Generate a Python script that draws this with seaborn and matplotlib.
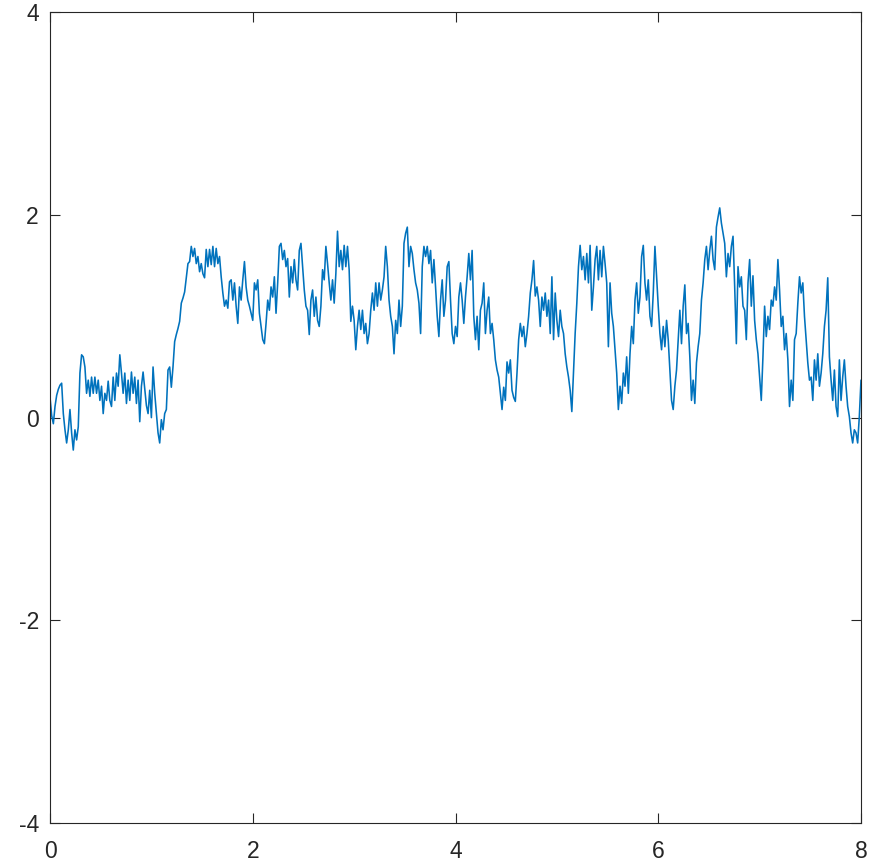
import numpy as np
import pandas as pd
import matplotlib
matplotlib.use('Agg')
import matplotlib.pyplot as plt
import seaborn as sns

####################################################################################################

seg_1 = [0.20, 0.02, -0.06, 0.11, 0.22, 0.28, 0.32, 0.34, 0.04, -0.12, -0.25, -0.12, 0.08, -0.15, -0.32,
         -0.12, -0.22, -0.09, 0.44, 0.62, 0.60, 0.50, 0.24, 0.37, 0.21, 0.40, 0.24, 0.40, 0.24, 0.37,
         0.17, 0.31, 0.04, 0.24, 0.17, 0.36, 0.17, 0.11, 0.40, 0.17, 0.44, 0.31, 0.62, 0.44, 0.24,
         0.44, 0.14, 0.37, 0.17, 0.45, 0.24, 0.40, 0.14, 0.37, -0.04, 0.31, 0.45, 0.28, 0.12, 0.04,
         0.27, 0.00, 0.50, 0.24, 0.04, -0.15, -0.25, -0.02, -0.12, 0.04, 0.08, 0.47, 0.50, 0.30, 0.50,
         0.75, 0.82, 0.88, 0.95, 1.13, 1.18, 1.24, 1.38, 1.52, 1.54, 1.69, 1.59, 1.67, 1.52, 1.59,
         1.44, 1.52, 1.42, 1.38, 1.66, 1.49, 1.66, 1.51, 1.69, 1.49, 1.67, 1.52, 1.59, 1.39, 1.23,
         1.10, 1.16, 1.08, 1.34, 1.36, 1.16, 1.33, 1.10, 0.93, 1.29, 1.16, 1.36, 1.54, 1.29, 1.16,
         1.10, 1.03, 0.96]

seg_2 = [1.33, 1.26, 1.36, 1.03, 0.90, 0.77, 0.73, 0.93, 1.16, 1.06, 1.29, 1.19, 1.39, 1.03, 1.33,
         1.69, 1.72, 1.56, 1.65, 1.49, 1.57, 1.19, 1.49, 1.33, 1.56, 1.36, 1.26, 1.65, 1.72, 1.49,
         1.26, 1.10, 1.06, 0.82, 1.16, 1.26, 1.00, 1.19, 0.96, 0.90, 1.10, 1.46, 1.36, 1.69, 1.52,
         1.33, 1.16, 1.36, 1.13, 1.42, 1.84, 1.49, 1.65, 1.46, 1.70, 1.49, 1.69, 1.46, 0.95, 1.10,
         0.96, 0.67, 0.90, 1.06, 0.87, 1.06, 0.83, 0.93, 0.73, 0.83, 1.06, 1.23, 1.06, 1.33, 1.10,
         1.33, 1.16, 1.26, 1.39, 1.69, 1.49, 1.16, 1.00, 0.90, 0.63, 0.96, 0.83, 1.16, 0.90, 1.10,
         1.72, 1.82, 1.88, 1.49, 1.69, 1.62, 1.46, 1.33, 1.26, 1.13, 0.83, 1.49, 1.69, 1.59, 1.69,
         1.52, 1.65, 1.33, 1.56, 1.29, 1.00, 0.80, 1.16, 1.36, 1.00, 1.16, 1.49, 1.54, 1.16, 0.83,
         0.73, 0.90, 0.80]

seg_3 = [1.19, 1.33, 1.16, 0.93, 1.19, 1.39, 1.62, 1.36, 1.65, 1.00, 0.77, 1.00, 0.67, 1.06, 1.13,
         1.33, 0.83, 1.06, 1.19, 0.83, 0.93, 0.77, 0.57, 0.47, 0.40, 0.24, 0.08, 0.30, 0.17, 0.55,
         0.44, 0.57, 0.27, 0.20, 0.16, 0.44, 0.77, 0.93, 0.80, 0.90, 0.70, 0.83, 1.00, 1.23, 1.36,
         1.55, 1.20, 1.29, 1.16, 0.90, 1.19, 1.06, 1.23, 1.00, 1.16, 0.83, 1.39, 0.77, 1.23, 0.96,
         0.80, 1.06, 0.90, 0.83, 0.63, 0.50, 0.40, 0.27, 0.06, 0.44, 0.83, 1.13, 1.49, 1.70, 1.46,
         1.59, 1.36, 1.62, 1.33, 1.70, 1.06, 1.29, 1.56, 1.69, 1.36, 1.65, 1.39, 1.69, 1.52, 1.33,
         0.70, 1.33, 1.03, 0.90, 0.67, 0.44, 0.08, 0.31, 0.14, 0.44, 0.31, 0.60, 0.24, 0.63, 0.90,
         0.73, 1.16, 1.33, 1.03, 1.19, 1.59, 1.70, 1.33, 1.16, 1.36, 1.00, 0.90, 1.23, 1.69, 1.39,
         1.10, 0.83, 0.67, 0.90]

seg_4 = [0.70, 0.96, 0.77, 0.47, 0.17, 0.08, 0.31, 0.47, 0.77, 1.06, 0.73, 1.10, 1.31, 0.83, 0.93,
         0.60, 0.17, 0.37, 0.14, 0.54, 0.70, 0.83, 1.16, 1.33, 1.56, 1.69, 1.46, 1.65, 1.79, 1.56,
         1.46, 1.88, 1.98, 2.07, 1.92, 1.82, 1.72, 1.39, 1.62, 1.49, 1.69, 1.79, 1.29, 0.73, 1.49,
         1.29, 1.39, 1.10, 1.06, 0.77, 1.33, 1.56, 1.10, 1.40, 0.96, 0.77, 0.63, 0.40, 0.17, 0.60,
         1.10, 0.80, 1.00, 0.87, 1.16, 1.10, 1.29, 1.16, 1.56, 1.26, 0.90, 1.00, 0.67, 0.83, 0.57,
         0.11, 0.37, 0.17, 0.77, 0.83, 1.13, 1.39, 1.23, 1.33, 1.00, 0.77, 0.54, 0.37, 0.40, 0.17,
         0.57, 0.37, 0.63, 0.31, 0.44, 0.63, 0.90, 1.06, 1.38, 0.60, 0.37, 0.17, 0.47, 0.11, 0.01,
         0.57, 0.17, 0.40, 0.57, 0.31, 0.11, 0.01, -0.15, -0.25, -0.12, -0.15, -0.25, 0.01, 0.37]

values = seg_1 + seg_2 + seg_3 + seg_4
t_start, t_end = 0, 8

df = pd.DataFrame({'t': np.linspace(t_start, t_end, len(values)), 'value': values})

#PLOT
####################################################################################################

sns.set_theme(style='ticks')
plt.rcParams['font.family'] = ['Liberation Sans', 'DejaVu Sans']
plt.rcParams['axes.unicode_minus'] = False
plt.rcParams['axes.edgecolor'] = '#262626'
plt.rcParams['axes.linewidth'] = 0.8

fig = plt.figure(figsize=(8.9, 8.67), dpi=100)
ax = fig.add_axes([0.0562, 0.0508, 0.9112, 0.935])

sns.lineplot(data=df, x='t', y='value', estimator=None, color='#0072BD', linewidth=1.15, ax=ax)

ax.set_xlim(0, 8)
ax.set_ylim(-4, 4)
ax.set_xticks([0, 2, 4, 6, 8])
ax.set_yticks([-4, -2, 0, 2, 4])
ax.set_xlabel('')
ax.set_ylabel('')
ax.tick_params(direction='in', length=7, width=0.8, color='#262626', labelsize=16.5,
               labelcolor='#262626', top=True, right=True)
ax.tick_params(axis='x', pad=12)
ax.tick_params(axis='y', pad=8)
for s in ax.spines.values():
    s.set_visible(True)

plt.savefig('out.png', dpi=100)
